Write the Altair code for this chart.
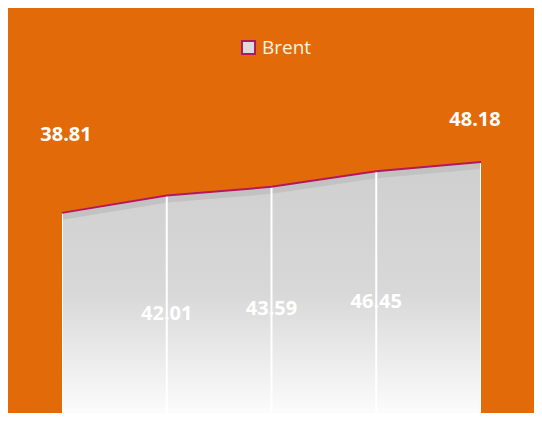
import altair as alt
import pandas as pd

periods = ["P1", "P2", "P3", "P4", "P5"]
brent = [38.81, 42.01, 43.59, 46.45, 48.18]
series = ["Brent"] * len(periods)

df = pd.DataFrame({"period": periods, "value": brent, "series": series})

ORANGE = "#E36A08"
LINE = "#B3185E"

x = alt.X("period:O", scale=alt.Scale(type="point", padding=0), axis=None, sort=periods)
yscale = alt.Scale(domain=[2.02, 76.47], nice=False, zero=False)
y = alt.Y("value:Q", scale=yscale, axis=None)

base = alt.Chart(df)

grad = alt.Gradient(
    gradient="linear",
    stops=[
        alt.GradientStop(color="#CFCFCF", offset=0),
        alt.GradientStop(color="#D8D8D8", offset=0.5),
        alt.GradientStop(color="#FFFFFF", offset=1),
    ],
    x1=0, x2=0, y1=0, y2=1,
)

area = base.mark_area(clip=True, color=grad).encode(x=x, y=y, y2=alt.datum(0))
shadow = base.mark_line(clip=True, color="#C2C2C2", strokeWidth=6, yOffset=4).encode(x=x, y=y)
rules = base.mark_rule(clip=True, color="white", strokeWidth=2).encode(x=x, y=y, y2=alt.datum(0))
line = base.mark_line(strokeWidth=2).encode(
    x=x,
    y=y,
    color=alt.Color(
        "series:N",
        scale=alt.Scale(range=[LINE]),
        legend=alt.Legend(
            title=None,
            orient="none",
            legendX=177,
            legendY=30,
            symbolType="square",
            symbolSize=170,
            symbolFillColor="#DCDCDC",
            symbolStrokeColor=LINE,
            symbolStrokeWidth=2,
            labelFontSize=19,
            labelColor="#FFF3E3",
            labelFont="Open Sans",
            padding=0,
        ),
    ),
)

label_style = dict(font="Open Sans", fontSize=20, fontWeight="bold", color="white",
                   align="center", baseline="middle")

mid = base.transform_filter(
    alt.FieldOneOfPredicate(field="period", oneOf=periods[1:4])
).transform_calculate(half="datum.value / 2").mark_text(dy=4, **label_style).encode(
    x=x, y=alt.Y("half:Q", scale=yscale, axis=None), text=alt.Text("value:Q", format=".2f")
)
first = base.transform_filter(alt.datum.period == periods[0]).mark_text(dy=-78, dx=4, **label_style).encode(
    x=x, y=y, text=alt.Text("value:Q", format=".2f")
)
last = base.transform_filter(alt.datum.period == periods[-1]).mark_text(dy=-42, dx=-6, **label_style).encode(
    x=x, y=y, text=alt.Text("value:Q", format=".2f")
)

chart = alt.layer(area, shadow, rules, line, mid, first, last).properties(
    width=419,
    height=405,
    background=ORANGE,
    autosize=alt.AutoSizeParams(type="none"),
    padding={"left": 54, "right": 53, "top": 0, "bottom": 0},
).configure_view(stroke=None)

chart.save("out.html", embed_options={"renderer": "svg", "actions": False})
